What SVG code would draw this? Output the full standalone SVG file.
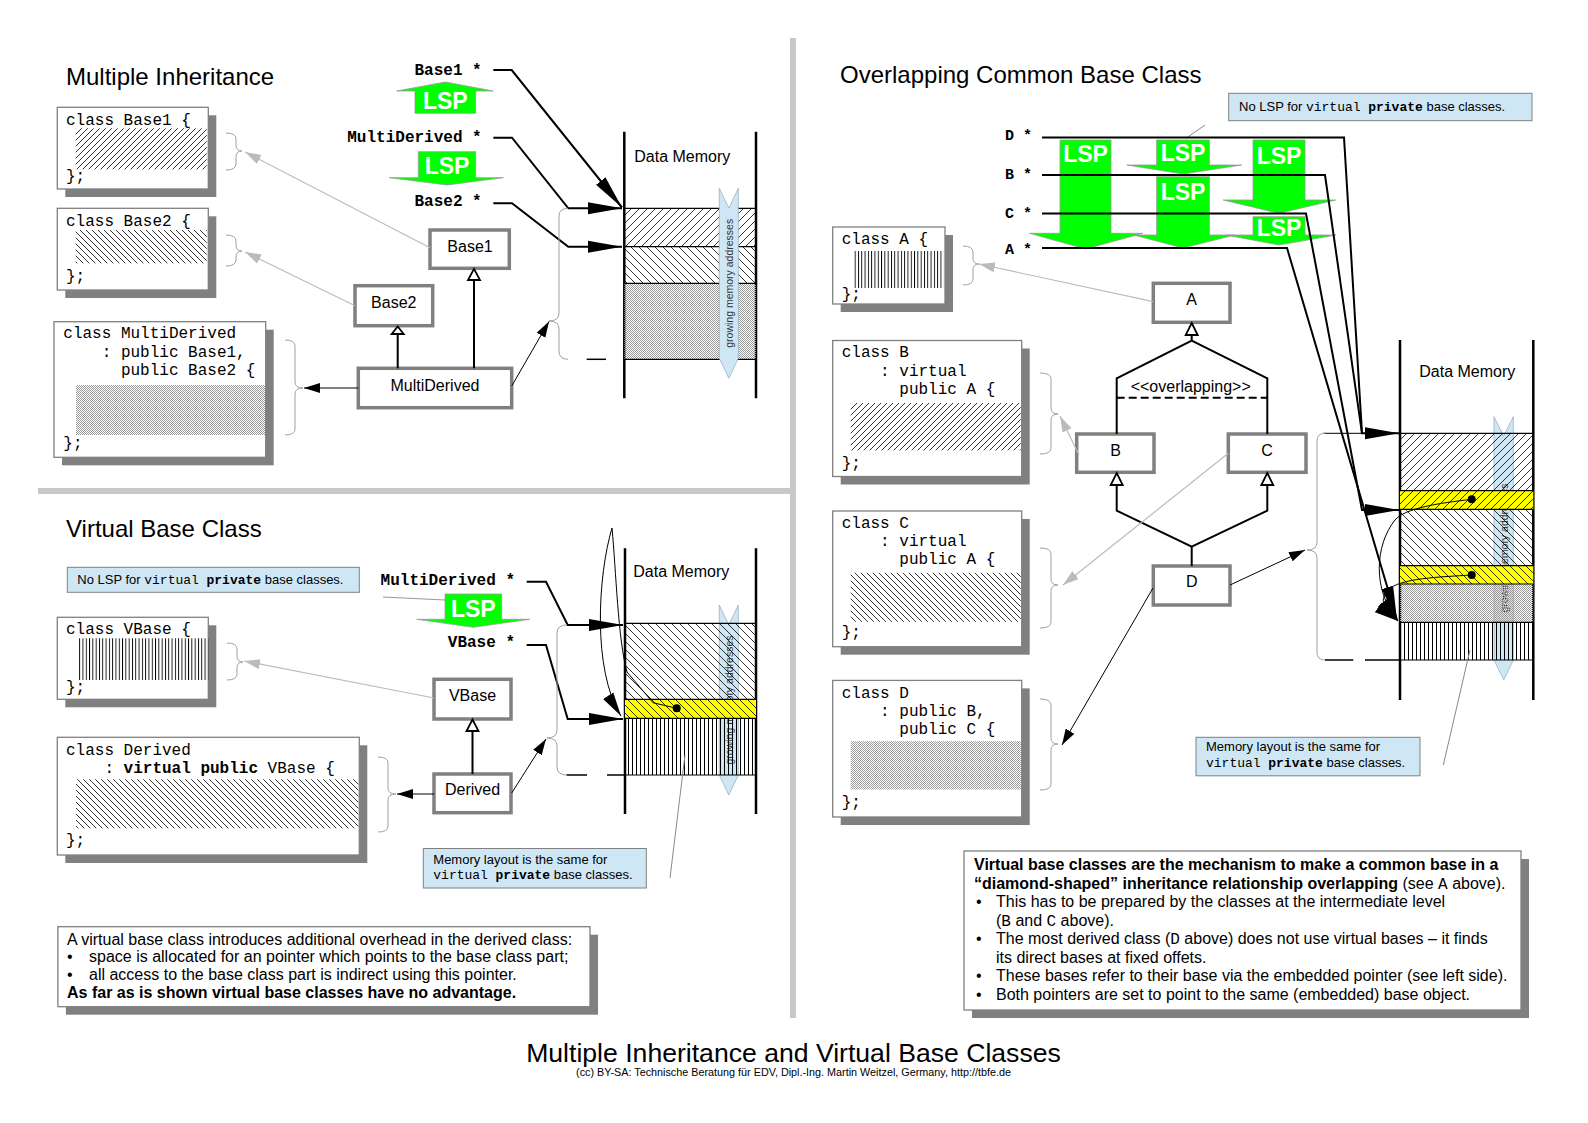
<svg xmlns="http://www.w3.org/2000/svg" width="1588" height="1123" viewBox="0 0 1588 1123">
<style>
.sans{font-family:'Liberation Sans',Arial,sans-serif}
.title{font-family:'Liberation Sans',Arial,sans-serif;font-size:24px}
.code{font-family:'Liberation Mono','Courier New',monospace;font-size:16px}
.ptr{font-family:'Liberation Mono','Courier New',monospace;font-size:16px;font-weight:bold}
.ptr2{font-family:'Liberation Mono','Courier New',monospace;font-size:15px;font-weight:bold}
.m{font-family:'Liberation Mono','Courier New',monospace}
.b{font-weight:bold}
.node rect{fill:#fff;stroke:#808080;stroke-width:3.5}
.node text{font-family:'Liberation Sans',Arial,sans-serif;font-size:16px;text-anchor:middle}
.cbox{fill:#fff;stroke:#808080;stroke-width:1.3}
.shadow{fill:#808080}
.note{fill:#cfe7f5;stroke:#808080;stroke-width:1}
.notet{font-family:'Liberation Sans',Arial,sans-serif;font-size:13px}
.lsp{fill:#00ff00;stroke:#9a9a9a;stroke-width:0.8}
.lspt{font-family:'Liberation Sans',Arial,sans-serif;font-size:23px;font-weight:bold;fill:#fff;text-anchor:middle}
.brace{fill:none;stroke:#a0a0a0;stroke-width:1}
.wire{fill:none;stroke:#000;stroke-width:2}
.thin{fill:none;stroke:#000;stroke-width:1}
.gray{fill:none;stroke:#bbb;stroke-width:1.2}
.mem{stroke:#000;stroke-width:2.5}
.row{stroke:#000;stroke-width:1.2}
.grow{fill:#cfe7f5;stroke:#9ab0c0;stroke-width:0.8}
.growt{font-family:'Liberation Sans',Arial,sans-serif;font-size:10.5px;text-anchor:middle;fill:#333}
.memt{font-family:'Liberation Sans',Arial,sans-serif;font-size:16px}
.tri{fill:#fff;stroke:#000;stroke-width:1.8}
.body{font-family:'Liberation Sans',Arial,sans-serif;font-size:16px}
.sep{stroke:#c8c8c8;stroke-width:6}
</style>
<defs>
<pattern id="hf6" width="6" height="6" patternUnits="userSpaceOnUse"><path d="M-1,1 L1,-1 M0,6 L6,0 M5,7 L7,5" stroke="#000" stroke-width="0.8"/></pattern>
<pattern id="hb6" width="6" height="6" patternUnits="userSpaceOnUse"><path d="M-1,5 L1,7 M0,0 L6,6 M5,-1 L7,1" stroke="#000" stroke-width="0.8"/></pattern>
<pattern id="hf8" width="8" height="8" patternUnits="userSpaceOnUse"><path d="M-1,1 L1,-1 M0,8 L8,0 M7,9 L9,7" stroke="#000" stroke-width="0.8"/></pattern>
<pattern id="hb8" width="8" height="8" patternUnits="userSpaceOnUse"><path d="M-1,7 L1,9 M0,0 L8,8 M7,-1 L9,1" stroke="#000" stroke-width="0.8"/></pattern>
<pattern id="vh3" width="3.3" height="10" patternUnits="userSpaceOnUse"><rect x="0" y="0" width="0.9" height="10" fill="#000"/></pattern>
<pattern id="vh4" width="4" height="10" patternUnits="userSpaceOnUse"><rect x="0" y="0" width="1" height="10" fill="#000"/></pattern>
<pattern id="dots" width="2" height="2" patternUnits="userSpaceOnUse"><rect x="0" y="0" width="1" height="1" fill="#9a9a9a"/><rect x="1" y="1" width="1" height="1" fill="#9a9a9a"/></pattern>
<marker id="ab" markerUnits="userSpaceOnUse" markerWidth="36" markerHeight="14" refX="34" refY="7" orient="auto" viewBox="0 0 36 14"><path d="M0,1 L34,7 L0,13 z" fill="#000"/></marker>
<marker id="am" markerUnits="userSpaceOnUse" markerWidth="26" markerHeight="14" refX="24" refY="7" orient="auto" viewBox="0 0 26 14"><path d="M0,1 L24,7 L0,13 z" fill="#000"/></marker>
<marker id="as" markerUnits="userSpaceOnUse" markerWidth="18" markerHeight="12" refX="16" refY="6" orient="auto" viewBox="0 0 18 12"><path d="M0,1 L16,6 L0,11 z" fill="#000"/></marker>
<marker id="ag" markerUnits="userSpaceOnUse" markerWidth="18" markerHeight="12" refX="16" refY="6" orient="auto" viewBox="0 0 18 12"><path d="M0,1 L16,6 L0,11 z" fill="#bbb"/></marker>
</defs>
<rect x="0" y="0" width="1588" height="1123" fill="#fff"/>

<g id="separators">
<line class="sep" x1="793" y1="38" x2="793" y2="1018"/>
<line class="sep" x1="38" y1="491" x2="790" y2="491"/>
</g>

<g id="titles">
<text class="title" x="66" y="85">Multiple Inheritance</text>
<text class="title" x="66" y="537">Virtual Base Class</text>
<text class="title" x="840" y="83">Overlapping Common Base Class</text>
<text class="sans" x="793.5" y="1062" font-size="26.6" text-anchor="middle">Multiple Inheritance and Virtual Base Classes</text>
<text class="sans" x="793.5" y="1076" font-size="10.8" text-anchor="middle">(cc) BY-SA: Technische Beratung für EDV, Dipl.-Ing. Martin Weitzel, Germany, http://tbfe.de</text>
</g>

<!-- ============ Multiple Inheritance ============ -->
<g id="class-Base1">
<rect class="shadow" x="65.3" y="115.3" width="151" height="81.7"/>
<rect class="cbox" x="57.3" y="107.3" width="151" height="81.7"/>
<text class="code" x="66" y="125">class Base1 {</text>
<rect x="75.7" y="128.3" width="131" height="41" fill="url(#hf6)"/>
<text class="code" x="66" y="181">};</text>
</g>
<g id="class-Base2">
<rect class="shadow" x="65.3" y="216.3" width="151" height="81.7"/>
<rect class="cbox" x="57.3" y="208.3" width="151" height="81.7"/>
<text class="code" x="66" y="226">class Base2 {</text>
<rect x="75.7" y="230" width="131" height="33.3" fill="url(#hb6)"/>
<text class="code" x="66" y="281">};</text>
</g>
<g id="class-MultiDerived">
<rect class="shadow" x="62" y="329.7" width="211.7" height="135.6"/>
<rect class="cbox" x="54" y="321.7" width="211.7" height="135.6"/>
<text class="code" x="63.3" y="338">class MultiDerived</text>
<text class="code" x="101.7" y="356.5">: public Base1,</text>
<text class="code" x="120.9" y="375">public Base2 {</text>
<rect x="76" y="385" width="189" height="50" fill="url(#dots)"/>
<text class="code" x="63.3" y="448">};</text>
</g>

<g id="node-Base1" class="node"><rect x="430" y="230" width="79.3" height="38.3"/><text x="470" y="252">Base1</text></g>
<g id="node-Base2" class="node"><rect x="355" y="285.7" width="77.7" height="40"/><text x="393.8" y="308">Base2</text></g>
<g id="node-MultiDerived" class="node"><rect x="358.3" y="368.3" width="153.4" height="39.4"/><text x="435" y="390.5">MultiDerived</text></g>

<g id="memory-1">
<line class="mem" x1="624.3" y1="131.7" x2="624.3" y2="398.3"/>
<line class="mem" x1="756" y1="131.7" x2="756" y2="398.3"/>
<text class="memt" x="634.3" y="161.7">Data Memory</text>
<rect x="624.3" y="208.3" width="131.7" height="38.4" fill="url(#hf8)"/>
<rect x="624.3" y="246.7" width="131.7" height="36.6" fill="url(#hb8)"/>
<rect x="624.3" y="283.3" width="131.7" height="76" fill="url(#dots)"/>
<line class="row" x1="624.3" y1="208.3" x2="756" y2="208.3"/>
<line class="row" x1="624.3" y1="246.7" x2="756" y2="246.7"/>
<line class="row" x1="624.3" y1="283.3" x2="756" y2="283.3"/>
<line class="row" x1="624.3" y1="359.3" x2="756" y2="359.3"/>
<polygon class="grow" points="719.3,188.3 728.8,208 738.3,188.3 738.3,358.3 728.8,378.3 719.3,358.3"/>
<text class="growt" transform="translate(732.5,283.3) rotate(-90)">growing memory addresses</text>
</g>

<g id="lsp-1">
<polygon class="lsp" points="415,113.3 415,91 396.7,91 445.3,82 493.3,91 475.7,91 475.7,113.3"/>
<text class="lspt" x="445.3" y="109">LSP</text>
<polygon class="lsp" points="418.3,151.7 475.7,151.7 475.7,177.7 503.3,177.7 447,185 389.3,177.7 418.3,177.7"/>
<text class="lspt" x="447" y="173.5">LSP</text>
<text class="ptr" x="481.7" y="75" text-anchor="end">Base1 *</text>
<text class="ptr" x="481.7" y="142" text-anchor="end">MultiDerived *</text>
<text class="ptr" x="481.7" y="206" text-anchor="end">Base2 *</text>
</g>

<!-- ============ Virtual Base Class ============ -->
<g id="note-1">
<rect class="note" x="67.3" y="567.3" width="292" height="25"/>
<text class="notet" x="77.3" y="584">No LSP for <tspan class="m">virtual</tspan> <tspan class="m b" dx="4">private</tspan> base classes.</text>
</g>
<g id="class-VBase">
<rect class="shadow" x="65.3" y="625.3" width="151" height="82"/>
<rect class="cbox" x="57.3" y="617.3" width="151" height="82"/>
<text class="code" x="66" y="633.5">class VBase {</text>
<rect x="79" y="638.3" width="129.3" height="41.7" fill="url(#vh3)"/>
<text class="code" x="66" y="691.5">};</text>
</g>
<g id="class-Derived">
<rect class="shadow" x="65.3" y="745.3" width="302" height="117.7"/>
<rect class="cbox" x="57.3" y="737.3" width="302" height="117.7"/>
<text class="code" x="66" y="755">class Derived</text>
<text class="code" x="104.4" y="772.7">: <tspan class="b">virtual public</tspan> VBase {</text>
<rect x="76" y="779.3" width="282.3" height="49" fill="url(#hb6)"/>
<text class="code" x="66" y="845">};</text>
</g>
<g id="node-VBase" class="node"><rect x="434" y="679.3" width="77" height="39.7"/><text x="472.5" y="700.5">VBase</text></g>
<g id="node-Derived" class="node"><rect x="434" y="774" width="77" height="38.7"/><text x="472.5" y="795">Derived</text></g>

<g id="lsp-2">
<polygon class="lsp" points="445,594 501.7,594 501.7,619.3 530,619.3 473.3,627.3 416.7,619.3 445,619.3"/>
<text class="lspt" x="473.3" y="617">LSP</text>
<text class="ptr" x="515" y="585" text-anchor="end">MultiDerived *</text>
<text class="ptr" x="515" y="647" text-anchor="end">VBase *</text>
</g>

<g id="memory-2">
<polygon class="grow" points="719.3,605 728.8,625 738.3,605 738.3,775 728.8,795 719.3,775"/>
<text class="growt" transform="translate(732.5,700) rotate(-90)">growing memory addresses</text>
<line class="mem" x1="625" y1="548.3" x2="625" y2="814"/>
<line class="mem" x1="756" y1="548.3" x2="756" y2="814"/>
<text class="memt" x="633.3" y="576.7">Data Memory</text>
<rect x="625" y="623.3" width="131" height="76" fill="url(#hb8)"/>
<rect x="625" y="699.3" width="131" height="19" fill="#ffff00"/>
<rect x="625" y="699.3" width="131" height="19" fill="url(#hb8)"/>
<rect x="625" y="718.3" width="131" height="56.7" fill="url(#vh4)"/>
<line class="row" x1="625" y1="623.3" x2="756" y2="623.3"/>
<line class="row" x1="625" y1="699.3" x2="756" y2="699.3"/>
<line class="row" x1="625" y1="718.3" x2="756" y2="718.3"/>
<line class="row" x1="625" y1="775" x2="756" y2="775"/>
<circle cx="676.7" cy="708.3" r="4" fill="#000"/>
</g>

<g id="note-2">
<rect class="note" x="423.3" y="848.5" width="223" height="39.5"/>
<text class="notet" x="433.3" y="863.5">Memory layout is the same for</text>
<text class="notet" x="433.3" y="879"><tspan class="m">virtual</tspan> <tspan class="m b" dx="4">private</tspan> base classes.</text>
</g>

<g id="text-1">
<rect class="shadow" x="65.9" y="934.7" width="532.1" height="80"/>
<rect class="cbox" x="57.9" y="926.7" width="532.1" height="80"/>
<text class="body" x="67" y="944.5">A virtual base class introduces additional overhead in the derived class:</text>
<text class="body" x="67" y="962">•</text>
<text class="body" x="89" y="962">space is allocated for an pointer which points to the base class part;</text>
<text class="body" x="67" y="979.5">•</text>
<text class="body" x="89" y="979.5">all access to the base class part is indirect using this pointer.</text>
<text class="body b" x="67" y="997.5">As far as is shown virtual base classes have no advantage.</text>
</g>

<!-- ============ Overlapping ============ -->
<g id="note-3">
<rect class="note" x="1228.7" y="93.3" width="303.3" height="27.4"/>
<text class="notet" x="1239" y="111">No LSP for <tspan class="m">virtual</tspan> <tspan class="m b" dx="4">private</tspan> base classes.</text>
</g>

<g id="lsp-3">
<polygon class="lsp" points="1060,140 1111,140 1111,233.3 1143,233.3 1085.5,249 1029.5,233.3 1060,233.3"/>
<text class="lspt" x="1085.5" y="162">LSP</text>
<polygon class="lsp" points="1156.6,140 1209.4,140 1209.4,165 1241.6,165 1183,174 1126.8,165 1156.6,165"/>
<text class="lspt" x="1183" y="161">LSP</text>
<polygon class="lsp" points="1156.6,176.7 1209.4,176.7 1209.4,235 1234.7,235 1183,248 1133.7,235 1156.6,235"/>
<text class="lspt" x="1183" y="200">LSP</text>
<polygon class="lsp" points="1253,140 1305,140 1305,200 1335.7,200 1279,213.3 1223.2,200 1253,200"/>
<text class="lspt" x="1279" y="164">LSP</text>
<polygon class="lsp" points="1253,216.7 1305,216.7 1305,235 1336,235 1279,245 1226,235 1253,235"/>
<text class="lspt" x="1279" y="235.5">LSP</text>
<text class="ptr2" x="1005" y="140">D *</text>
<text class="ptr2" x="1005" y="179">B *</text>
<text class="ptr2" x="1005" y="218">C *</text>
<text class="ptr2" x="1005" y="254">A *</text>
</g>

<g id="class-A">
<rect class="shadow" x="840.7" y="235" width="112.3" height="77"/>
<rect class="cbox" x="832.7" y="227" width="112.3" height="77"/>
<text class="code" x="841.7" y="244">class A {</text>
<rect x="854" y="251" width="89.3" height="37" fill="url(#vh3)"/>
<text class="code" x="841.7" y="299">};</text>
</g>
<g id="class-B">
<rect class="shadow" x="840.7" y="348.5" width="189" height="136"/>
<rect class="cbox" x="832.7" y="340.5" width="189" height="136"/>
<text class="code" x="841.7" y="357">class B</text>
<text class="code" x="880.1" y="375.5">: virtual</text>
<text class="code" x="899.3" y="394">public A {</text>
<rect x="850.7" y="403" width="170" height="47.4" fill="url(#hf6)"/>
<text class="code" x="841.7" y="468">};</text>
</g>
<g id="class-C">
<rect class="shadow" x="840.7" y="519" width="189" height="135.7"/>
<rect class="cbox" x="832.7" y="511" width="189" height="135.7"/>
<text class="code" x="841.7" y="527.5">class C</text>
<text class="code" x="880.1" y="545.5">: virtual</text>
<text class="code" x="899.3" y="564">public A {</text>
<rect x="850.7" y="572.8" width="170" height="49" fill="url(#hb6)"/>
<text class="code" x="841.7" y="637">};</text>
</g>
<g id="class-D">
<rect class="shadow" x="840.7" y="688.4" width="189" height="136.6"/>
<rect class="cbox" x="832.7" y="680.4" width="189" height="136.6"/>
<text class="code" x="841.7" y="698">class D</text>
<text class="code" x="880.1" y="716">: public B,</text>
<text class="code" x="899.3" y="734">public C {</text>
<rect x="850.7" y="741.2" width="170" height="48.3" fill="url(#dots)"/>
<text class="code" x="841.7" y="807">};</text>
</g>

<g id="node-A" class="node"><rect x="1153.3" y="283.3" width="76.7" height="39"/><text x="1191.7" y="305">A</text></g>
<g id="node-B" class="node"><rect x="1076.7" y="434" width="77.3" height="38.3"/><text x="1115.7" y="456">B</text></g>
<g id="node-C" class="node"><rect x="1228.3" y="434" width="77.7" height="38.3"/><text x="1267" y="456">C</text></g>
<g id="node-D" class="node"><rect x="1153.3" y="566" width="76.7" height="39"/><text x="1191.7" y="587">D</text></g>

<g id="memory-3">
<polygon class="grow" points="1494,416.7 1503.7,436 1513.3,416.7 1513.3,660 1503.7,680 1494,660"/>
<text class="growt" transform="translate(1507.5,548) rotate(-90)">growing memory addresses</text>
<line class="mem" x1="1400" y1="340" x2="1400" y2="700"/>
<line class="mem" x1="1533.3" y1="340" x2="1533.3" y2="700"/>
<text class="memt" x="1419.3" y="376.7">Data Memory</text>
<rect x="1400" y="433.3" width="133.3" height="57.4" fill="url(#hf8)"/>
<rect x="1400" y="490.7" width="133.3" height="18.6" fill="#ffff00"/>
<rect x="1400" y="490.7" width="133.3" height="18.6" fill="url(#hf8)"/>
<rect x="1400" y="509.3" width="133.3" height="56.4" fill="url(#hb8)"/>
<rect x="1400" y="565.7" width="133.3" height="18.3" fill="#ffff00"/>
<rect x="1400" y="565.7" width="133.3" height="18.3" fill="url(#hb8)"/>
<rect x="1400" y="584" width="133.3" height="38.3" fill="url(#dots)"/>
<rect x="1400" y="622.3" width="133.3" height="37.7" fill="url(#vh4)"/>
<line class="row" x1="1400" y1="433.3" x2="1533.3" y2="433.3"/>
<line class="row" x1="1400" y1="490.7" x2="1533.3" y2="490.7"/>
<line class="row" x1="1400" y1="509.3" x2="1533.3" y2="509.3"/>
<line class="row" x1="1400" y1="565.7" x2="1533.3" y2="565.7"/>
<line class="row" x1="1400" y1="584" x2="1533.3" y2="584"/>
<line class="row" x1="1400" y1="622.3" x2="1533.3" y2="622.3"/>
<line class="row" x1="1400" y1="660" x2="1533.3" y2="660"/>
<circle cx="1471.7" cy="499.3" r="4" fill="#000"/>
<circle cx="1471.7" cy="575" r="4" fill="#000"/>
</g>

<g id="note-4">
<rect class="note" x="1196" y="737.3" width="224" height="38.5"/>
<text class="notet" x="1206" y="751">Memory layout is the same for</text>
<text class="notet" x="1206" y="766.5"><tspan class="m">virtual</tspan> <tspan class="m b" dx="4">private</tspan> base classes.</text>
</g>

<g id="text-2">
<rect class="shadow" x="972" y="859" width="557" height="159"/>
<rect class="cbox" x="964" y="851" width="557" height="159"/>
<text class="body b" x="974" y="870">Virtual base classes are the mechanism to make a common base in a</text>
<text class="body" x="974" y="888.5"><tspan class="b">“diamond-shaped” inheritance relationship overlapping</tspan> (see <tspan class="m">A</tspan> above).</text>
<text class="body" x="976" y="907">•</text>
<text class="body" x="996" y="907">This has to be prepared by the classes at the intermediate level</text>
<text class="body" x="996" y="925.5">(<tspan class="m">B</tspan> and <tspan class="m">C</tspan> above).</text>
<text class="body" x="976" y="944">•</text>
<text class="body" x="996" y="944">The most derived class (<tspan class="m">D</tspan> above) does not use virtual bases – it finds</text>
<text class="body" x="996" y="962.5">its direct bases at fixed offets.</text>
<text class="body" x="976" y="981">•</text>
<text class="body" x="996" y="981">These bases refer to their base via the embedded pointer (see left side).</text>
<text class="body" x="976" y="999.5">•</text>
<text class="body" x="996" y="999.5">Both pointers are set to point to the same (embedded) base object.</text>
</g>

<!-- ============ connectors ============ -->
<g id="connectors">
<!-- section 1 -->
<path class="wire" d="M493.3,70 H511.7 L622,207.5" marker-end="url(#ab)"/>
<path class="wire" d="M493.3,137.7 H512 L568.3,208.3 H622" marker-end="url(#ab)"/>
<path class="wire" d="M493.3,203.3 H512 L568.3,246.7 H622" marker-end="url(#ab)"/>
<line x1="397.7" y1="368.3" x2="397.7" y2="334" stroke="#000" stroke-width="2"/>
<polygon class="tri" points="397.7,326.5 403.7,334 391.7,334"/>
<line x1="474" y1="368.3" x2="474" y2="280" stroke="#000" stroke-width="2"/>
<polygon class="tri" points="474,268.8 480,280 468,280"/>
<path class="brace" d="M226,133 Q236,133 236,139 L236,145 Q236,151 242,151 Q236,151 236,157 L236,164 Q236,170 226,170"/>
<path class="brace" d="M226,235 Q236,235 236,241 L236,245 Q236,251 242,251 Q236,251 236,257 L236,260 Q236,266 226,266"/>
<path class="brace" d="M285,340 Q295,340 295,346 L295,382 Q295,388 303,388 Q295,388 295,394 L295,429 Q295,435 285,435"/>
<path class="brace" d="M568,208.3 Q559,208.3 559,216 L559,313 Q559,321 549,321 Q559,321 559,329 L559,351 Q559,359.3 568,359.3"/>
<line x1="586.7" y1="359.3" x2="606" y2="359.3" stroke="#000" stroke-width="1.5"/>
<path class="gray" d="M430,247.7 L245,152" marker-end="url(#ag)"/>
<path class="gray" d="M355,305.7 L245,252" marker-end="url(#ag)"/>
<path class="thin" d="M358.3,388 H304" marker-end="url(#as)"/>
<path class="thin" d="M511.7,386 L549,321.5" marker-end="url(#as)"/>
<!-- section 2 -->
<path class="wire" d="M526.7,581.7 H546 L567.7,625 H623" marker-end="url(#ab)"/>
<path class="wire" d="M526.7,645 H546 L567.7,719 H623" marker-end="url(#ab)"/>
<line x1="383" y1="597" x2="445" y2="600" stroke="#999" stroke-width="1"/>
<line x1="472.5" y1="774" x2="472.5" y2="731" stroke="#000" stroke-width="2"/>
<polygon class="tri" points="472.5,719.5 478.5,731 466.5,731"/>
<path class="brace" d="M227,643 Q237,643 237,649 L237,656 Q237,662 243,662 Q237,662 237,668 L237,674 Q237,680 227,680"/>
<path class="brace" d="M378,757 Q388,757 388,763 L388,788 Q388,794 396,794 Q388,794 388,800 L388,826 Q388,832 378,832"/>
<path class="brace" d="M567,625 Q557,625 557,633 L557,730 Q557,738 547,738 Q557,738 557,746 L557,767 Q557,775 567,775"/>
<line x1="566.7" y1="775" x2="587" y2="775" stroke="#000" stroke-width="1.5"/>
<line x1="607" y1="775" x2="625" y2="775" stroke="#000" stroke-width="1.5"/>
<path class="gray" d="M434,698 L244,661" marker-end="url(#ag)"/>
<path class="thin" d="M434,794 H397" marker-end="url(#as)"/>
<path class="thin" d="M511.7,793 L546,739" marker-end="url(#as)"/>
<path class="thin" d="M676.7,708.3 L653,702.7 L627,672 C618,640 616,570 612,528 C598,575 592,670 621,716" marker-end="url(#am)"/>
<line x1="670" y1="878" x2="685" y2="755" stroke="#888" stroke-width="1"/>
<!-- section 3 -->
<line x1="1205" y1="125" x2="1186.5" y2="138" stroke="#888" stroke-width="1"/>
<path class="wire" d="M1042,137.5 H1344 L1362,433.3 H1399" marker-end="url(#ab)"/>
<path class="wire" d="M1042,175 H1325 L1362,433.3"/>
<path class="wire" d="M1042,213.5 H1306 L1362,510 H1399" marker-end="url(#ab)"/>
<path class="wire" d="M1042,248 H1287 L1397,620" marker-end="url(#ab)"/>
<line x1="1323" y1="433.3" x2="1362" y2="433.3" stroke="#000" stroke-width="1"/>
<line x1="1191.7" y1="335" x2="1191.7" y2="340.7" stroke="#000" stroke-width="2"/>
<polygon class="tri" points="1191.7,323 1197.7,335 1185.7,335"/>
<polyline fill="none" stroke="#000" stroke-width="2" points="1116.7,434 1116.7,378.3 1191.7,340.7 1267.3,378.3 1267.3,434"/>
<line x1="1116.7" y1="397.7" x2="1267.3" y2="397.7" stroke="#000" stroke-width="2" stroke-dasharray="8,4"/>
<text class="sans" x="1190.7" y="392" font-size="16" text-anchor="middle">&lt;&lt;overlapping&gt;&gt;</text>
<polyline fill="none" stroke="#000" stroke-width="2" points="1116.7,485 1116.7,510.7 1191.7,546.7 1267.3,510.7 1267.3,485"/>
<line x1="1191.7" y1="546.7" x2="1191.7" y2="566" stroke="#000" stroke-width="2"/>
<polygon class="tri" points="1116.7,473 1122.7,485 1110.7,485"/>
<polygon class="tri" points="1267.3,473 1273.3,485 1261.3,485"/>
<path class="brace" d="M963,246 Q973,246 973,252 L973,258 Q973,264 979,264 Q973,264 973,270 L973,279 Q973,285 963,285"/>
<path class="brace" d="M1040,373 Q1051,373 1051,379 L1051,408 Q1051,414 1058,414 Q1051,414 1051,420 L1051,448 Q1051,454 1040,454"/>
<path class="brace" d="M1040,548 Q1051,548 1051,554 L1051,579 Q1051,585 1058,585 Q1051,585 1051,591 L1051,622 Q1051,628 1040,628"/>
<path class="brace" d="M1040,699 Q1051,699 1051,705 L1051,738 Q1051,744 1058,744 Q1051,744 1051,750 L1051,784 Q1051,790 1040,790"/>
<path class="brace" d="M1325,433.3 Q1317,433.3 1317,441 L1317,542 Q1317,550 1307,550 Q1317,550 1317,558 L1317,652 Q1317,660 1325,660"/>
<line x1="1325" y1="660" x2="1353.3" y2="660" stroke="#000" stroke-width="1.5"/>
<line x1="1365" y1="660" x2="1400" y2="660" stroke="#000" stroke-width="1.5"/>
<path class="gray" d="M1153.3,301.7 L979,264" marker-end="url(#ag)"/>
<path class="gray" d="M1079,455 L1060,416" marker-end="url(#ag)"/>
<path class="gray" d="M1228.3,453.3 L1063,585" marker-end="url(#ag)"/>
<path class="thin" d="M1230,585 L1305,550" marker-end="url(#as)"/>
<path class="thin" d="M1153,588 L1062,745" marker-end="url(#as)"/>
<path class="thin" d="M1471.7,499.3 C1440,503 1405,508 1395,520 C1375,545 1372,590 1398,621" marker-end="url(#am)"/>
<path class="thin" d="M1471.7,575 C1440,577 1400,578 1388,590 C1378,602 1385,612 1398,621" marker-end="url(#am)"/>
<line x1="1443.3" y1="765" x2="1470" y2="650" stroke="#888" stroke-width="1"/>
</g>
</svg>
